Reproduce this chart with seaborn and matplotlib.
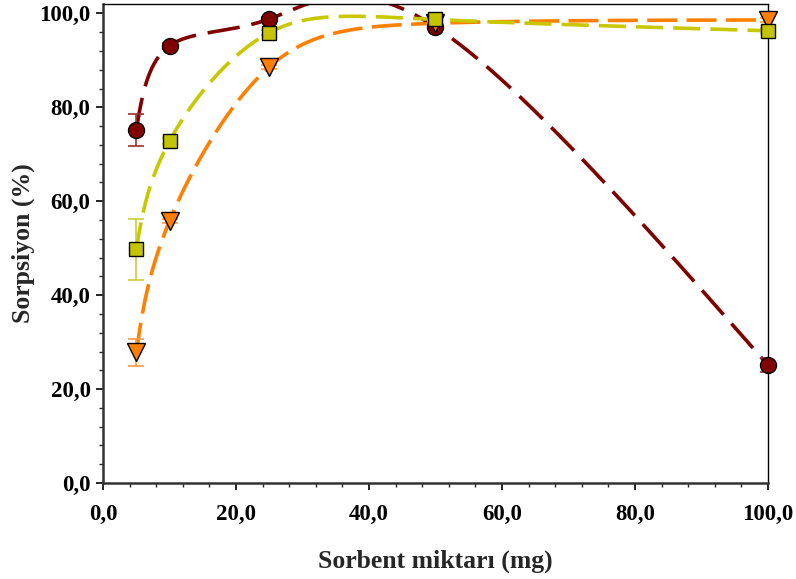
import numpy as np
import pandas as pd
import matplotlib
matplotlib.use("Agg")
import matplotlib.pyplot as plt
import seaborn as sns
from matplotlib.ticker import MultipleLocator, FuncFormatter

# sorbent amounts (mg)
x = [5, 10, 25, 50, 100]

# sorption (%) for three series
red_y = [75.2, 93.1, 98.8, 97.1, 25.1]
red_err = [3.4, 0.6, 0.5, 0.5, 1.5]
yel_y = [49.8, 72.8, 95.9, 98.7, 96.3]
yel_err = [6.5, 0.6, 0.5, 0.5, 0.5]
ora_y = [27.8, 55.8, 88.6, 97.9, 98.6]
ora_err = [2.8, 0.5, 0.5, 0.5, 0.5]

sns.set_style("white")
plt.rcParams['font.family'] = ['Liberation Serif', 'DejaVu Serif']
plt.rcParams['font.weight'] = 'bold'


# natural cubic spline coefficients for values v at t = 0..k-1
def nat_spline(v, tn):
    v = np.asarray(v, float)
    k = len(v)
    A = np.zeros((k, k))
    b = np.zeros(k)
    A[0, 0] = A[-1, -1] = 1
    for i in range(1, k - 1):
        A[i, i - 1] = 1
        A[i, i] = 4
        A[i, i + 1] = 1
        b[i] = 3 * (v[i + 1] - 2 * v[i] + v[i - 1])
    c = np.linalg.solve(A, b)
    idx = np.clip(np.floor(tn).astype(int), 0, k - 2)
    d = tn - idx
    bb = (v[idx + 1] - v[idx]) - (2 * c[idx] + c[idx + 1]) / 3
    dd = (c[idx + 1] - c[idx]) / 3
    return v[idx] + bb * d + c[idx] * d ** 2 + dd * d ** 3


# parametric spline through the points (smooth connecting curve)
def spline(xs, ys, n=400):
    tn = np.linspace(0, len(xs) - 1, n)
    return pd.DataFrame({"x": nat_spline(xs, tn), "y": nat_spline(ys, tn)})


fig = plt.figure(figsize=(7.96, 5.79), dpi=100)
ax = fig.add_axes([0.1294, 0.1658, 0.8354, 0.8273])

series = [
    (red_y, red_err, "#800000", "#800000", "#a03030", "o", 11.5, (9, 3.3)),
    (ora_y, ora_err, "#ff8000", "#ff8000", "#ff9a40", "v", 12.5, (8.3, 2.6)),
    (yel_y, yel_err, "#c4c400", "#c8c800", "#cccc33", "s", 10.5, (7.5, 2.8)),
]

for i, (ys, err, mcol, lcol, ecol, mk, ms, dash) in enumerate(series):
    curve = spline(x, ys)
    sns.lineplot(data=curve, x="x", y="y", ax=ax, color=lcol, lw=2.6,
                 sort=False, zorder=2)
    ax.lines[-1].set_dashes(dash)
    ax.errorbar(x, ys, yerr=err, fmt="none", ecolor=ecol, elinewidth=1.2,
                capsize=5.5, capthick=1.2, zorder=3 + i)
    ax.plot(x, ys, linestyle="none", marker=mk, markersize=ms,
            markerfacecolor=mcol, markeredgecolor="black",
            markeredgewidth=1.0, zorder=6 + i, clip_on=False)

ax.set_xlim(0, 100)
ax.set_ylim(0, 102)
ax.xaxis.set_major_locator(MultipleLocator(20))
ax.xaxis.set_minor_locator(MultipleLocator(4))
ax.yaxis.set_major_locator(MultipleLocator(20))
ax.yaxis.set_minor_locator(MultipleLocator(4))
fmt = FuncFormatter(lambda v, p: f"{v:.1f}".replace(".", ","))
ax.xaxis.set_major_formatter(fmt)
ax.yaxis.set_major_formatter(fmt)

ax.tick_params(which="major", direction="out", length=5, width=1.2,
               labelsize=16.5, bottom=True, left=True, top=False, right=False,
               colors="black")
ax.tick_params(which="minor", direction="out", length=3, width=1.0,
               bottom=True, left=True, top=False, right=False)
for lab in ax.get_xticklabels() + ax.get_yticklabels():
    lab.set_fontweight("bold")
ax.tick_params(axis="x", pad=10)
ax.tick_params(axis="y", pad=4)

for s in ["left", "bottom"]:
    ax.spines[s].set_linewidth(1.8)
    ax.spines[s].set_color("#333333")
for s in ["top", "right"]:
    ax.spines[s].set_linewidth(1.0)
    ax.spines[s].set_color("black")

ax.set_xlabel("Sorbent miktarı (mg)", fontsize=18.5, fontweight="bold",
              labelpad=18)
ax.set_ylabel("Sorpsiyon (%)", fontsize=18.5, fontweight="bold", labelpad=3)

fig.savefig("out.png", dpi=100)
